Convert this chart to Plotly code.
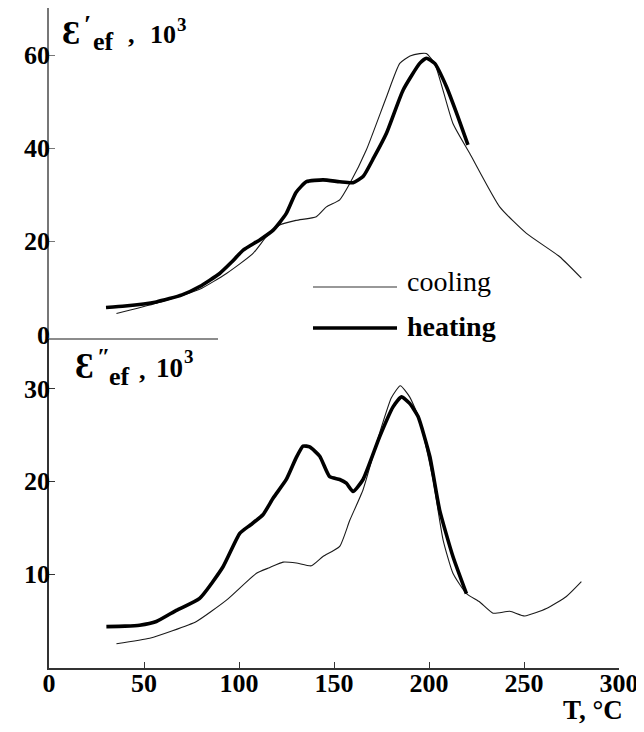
import plotly.graph_objects as go

# ---------------- data ----------------
T_e1_heat = [30, 40, 56.5, 70, 79.3, 89.8, 96, 102.2, 110.9, 118, 124.9, 130, 135.5, 144.2, 153, 160,
             165.3, 171, 177.6, 186.4, 195.1, 198.6, 203, 209.2, 215, 220.5]
V_e1_heat = [5.8, 6.1, 7.0, 8.5, 10.3, 13.1, 15.5, 18.1, 20.3, 22.4, 26, 30.5, 32.8, 33.2, 32.8, 32.6,
             33.9, 38, 43.2, 52.5, 58.2, 59.3, 58.2, 53.2, 47, 40.7]

T_e1_cool = [35.5, 56.5, 79.3, 93.4, 107.4, 114.4, 121.4, 130, 140.7, 146, 153, 158.3, 167, 177.6, 184.6,
             190, 195.1, 198.6, 203, 212.6, 221.4, 237.2, 251.3, 268.8, 280.2]
V_e1_cool = [4.5, 6.7, 9.7, 13.1, 17.4, 21, 23.5, 24.5, 25.3, 27.4, 28.9, 32.4, 39.6, 51, 58.2,
             59.8, 60.3, 60.3, 58.2, 45.3, 38.9, 27.4, 21.7, 16.7, 12.1]

T_e2_heat = [30.2, 40, 47.7, 56.5, 67, 79.3, 91.6, 100.4, 106, 112.6, 118, 124.9, 130, 133.7, 137.2, 142.5,
             147.7, 153, 156.5, 160, 165.3, 174, 181, 185.5, 189.8, 194.2, 200.4, 205.6, 212.6, 219.7]
V_e2_heat = [4.35, 4.4, 4.5, 4.9, 6.1, 7.4, 10.8, 14.4, 15.3, 16.4, 18.2, 20.2, 22.5, 23.8, 23.7, 22.7,
             20.5, 20.2, 19.8, 18.9, 20.2, 24.8, 28, 29.1, 28.4, 27, 22.7, 16.9, 11.9, 7.9]

T_e2_cool = [35.5, 53, 65, 77.6, 93.4, 109.2, 116, 123.2, 130.2, 138.1, 144.2, 153, 158.3, 165.3, 174,
             180.2, 184.9, 189.8, 195.1, 202.1, 207.4, 212.6, 219.7, 226.7, 233.7, 242.5, 250.4, 261.8,
             272.3, 280.2]
V_e2_cool = [2.5, 3.1, 3.9, 4.9, 7.2, 10.1, 10.7, 11.3, 11.2, 10.9, 11.9, 13, 15.8, 19.1, 25.2,
             29, 30.3, 29.1, 26.6, 20.2, 13.7, 10.1, 7.9, 7.0, 5.8, 6.0, 5.5, 6.3,
             7.6, 9.2]

x_ticks = [0, 50, 100, 150, 200, 250, 300]
y1_ticks = [0, 20, 40, 60]
y2_ticks = [10, 20, 30]

# ---------------- layout helpers ----------------
# the page body has an 8px margin, so the figure starts at page (8, 8)
OFF = 8
W, H = 644 - OFF, 732 - OFF
L, R, TOP, B = 49 - OFF, 25, 0, 64
PW, PH = W - L - R, H - TOP - B


def px_x(p):
    """page pixel x -> paper x"""
    return (p - OFF - L) / PW


def px_y(p):
    """page pixel y -> paper y"""
    return (H - B - (p - OFF)) / PH


SERIF = "Liberation Serif, Times New Roman, DejaVu Serif, serif"
THIN = dict(color="#1a1a1a", width=1.1)
THICK = dict(color="#000000", width=3.6)
SPL = dict(shape="spline", smoothing=0.5)

fig = go.Figure()
fig.add_trace(go.Scatter(x=T_e1_cool, y=V_e1_cool, mode="lines", line=dict(**THIN, **SPL),
                         xaxis="x2", yaxis="y2", name="cooling", showlegend=False))
fig.add_trace(go.Scatter(x=T_e1_heat, y=V_e1_heat, mode="lines", line=dict(**THICK, **SPL),
                         xaxis="x2", yaxis="y2", name="heating", showlegend=False))
fig.add_trace(go.Scatter(x=T_e2_cool, y=V_e2_cool, mode="lines", line=dict(**THIN, **SPL),
                         xaxis="x", yaxis="y", name="cooling", showlegend=False))
fig.add_trace(go.Scatter(x=T_e2_heat, y=V_e2_heat, mode="lines", line=dict(**THICK, **SPL),
                         xaxis="x", yaxis="y", name="heating", showlegend=False))

tickfont = dict(family=SERIF, size=26, color="black", weight="bold")

# lower panel: 0 at page y 667, 9.283 px per unit; upper: 0 at 334.5, 4.6583 px per unit
fig.update_layout(
    width=W, height=H,
    margin=dict(l=L, r=R, t=TOP, b=B, pad=0),
    paper_bgcolor="white", plot_bgcolor="white",
    showlegend=False,
    xaxis=dict(domain=[0, 1], range=[0, 300], anchor="y", tickvals=x_ticks,
               ticks="inside", ticklen=6, tickwidth=1.3, tickcolor="#333",
               showline=True, linecolor="#333", linewidth=1.5, ticklabelstandoff=-9,
               showgrid=False, zeroline=False, tickfont=tickfont),
    yaxis=dict(domain=[0, px_y(339)], range=[(667 - 668) / 9.283, (667 - 339) / 9.283],
               anchor="x", tickvals=y2_ticks,
               ticks="inside", ticklen=6, tickwidth=1.3, tickcolor="#333",
               showline=True, linecolor="#333", linewidth=1.5, ticklabelstandoff=-8,
               showgrid=False, zeroline=False, tickfont=tickfont),
    xaxis2=dict(domain=[0, 1], range=[0, 300], anchor="y2", visible=False),
    yaxis2=dict(domain=[px_y(335), 1], range=[(334.5 - 335) / 4.6583, (334.5 - 8) / 4.6583],
                anchor="x2", tickvals=y1_ticks,
                ticks="inside", ticklen=6, tickwidth=1.3, tickcolor="#777",
                showline=True, linecolor="#777", linewidth=1.5, ticklabelstandoff=-8,
                showgrid=False, zeroline=False, tickfont=tickfont),
)

shapes = []
# separator line (top border of lower panel label box)
shapes.append(dict(type="line", xref="paper", yref="paper", x0=px_x(49), x1=px_x(218),
                   y0=px_y(339), y1=px_y(339), line=dict(color="#666", width=1.5)))
# legend samples
shapes.append(dict(type="line", xref="paper", yref="paper", x0=px_x(313), x1=px_x(397),
                   y0=px_y(287), y1=px_y(287), line=dict(color="#333", width=1.1)))
shapes.append(dict(type="line", xref="paper", yref="paper", x0=px_x(313), x1=px_x(397),
                   y0=px_y(328), y1=px_y(328), line=dict(color="#000", width=3.6)))
fig.update_layout(shapes=shapes)

anns = []


def ann(text, x, y, size, bold=True, xanchor="left", yanchor="middle"):
    anns.append(dict(text=text, xref="paper", yref="paper", x=px_x(x), y=px_y(y),
                     xanchor=xanchor, yanchor=yanchor, showarrow=False, borderpad=0,
                     font=dict(family=SERIF, size=size, color="black",
                               weight="bold" if bold else "normal")))


# legend texts
ann("cooling", 406, 281, 28, bold=False)
ann("heating", 406, 326, 28, bold=True)

# axis title T, °C
ann("T, °C", 624, 710, 27, bold=True, xanchor="right")

# top y label: Ɛ′ef , 10^3  (pieces laid side by side)
ann("Ɛ", 61, 32, 34)
ann("′", 83, 24, 26)
ann("ef", 92, 41, 26)
ann(",", 131, 35, 26, xanchor="center")
ann("10", 149, 35, 26)
ann("3", 176, 24, 19)

# bottom y label: Ɛ″ef , 10^3
ann("Ɛ", 74, 366, 35)
ann("″", 96, 356, 24)
ann("ef", 108, 376, 26)
ann(",", 142, 370, 26, xanchor="center")
ann("10", 155, 368, 27)
ann("3", 183, 356, 19)

fig.update_layout(annotations=anns)

fig.write_html("out.html")
